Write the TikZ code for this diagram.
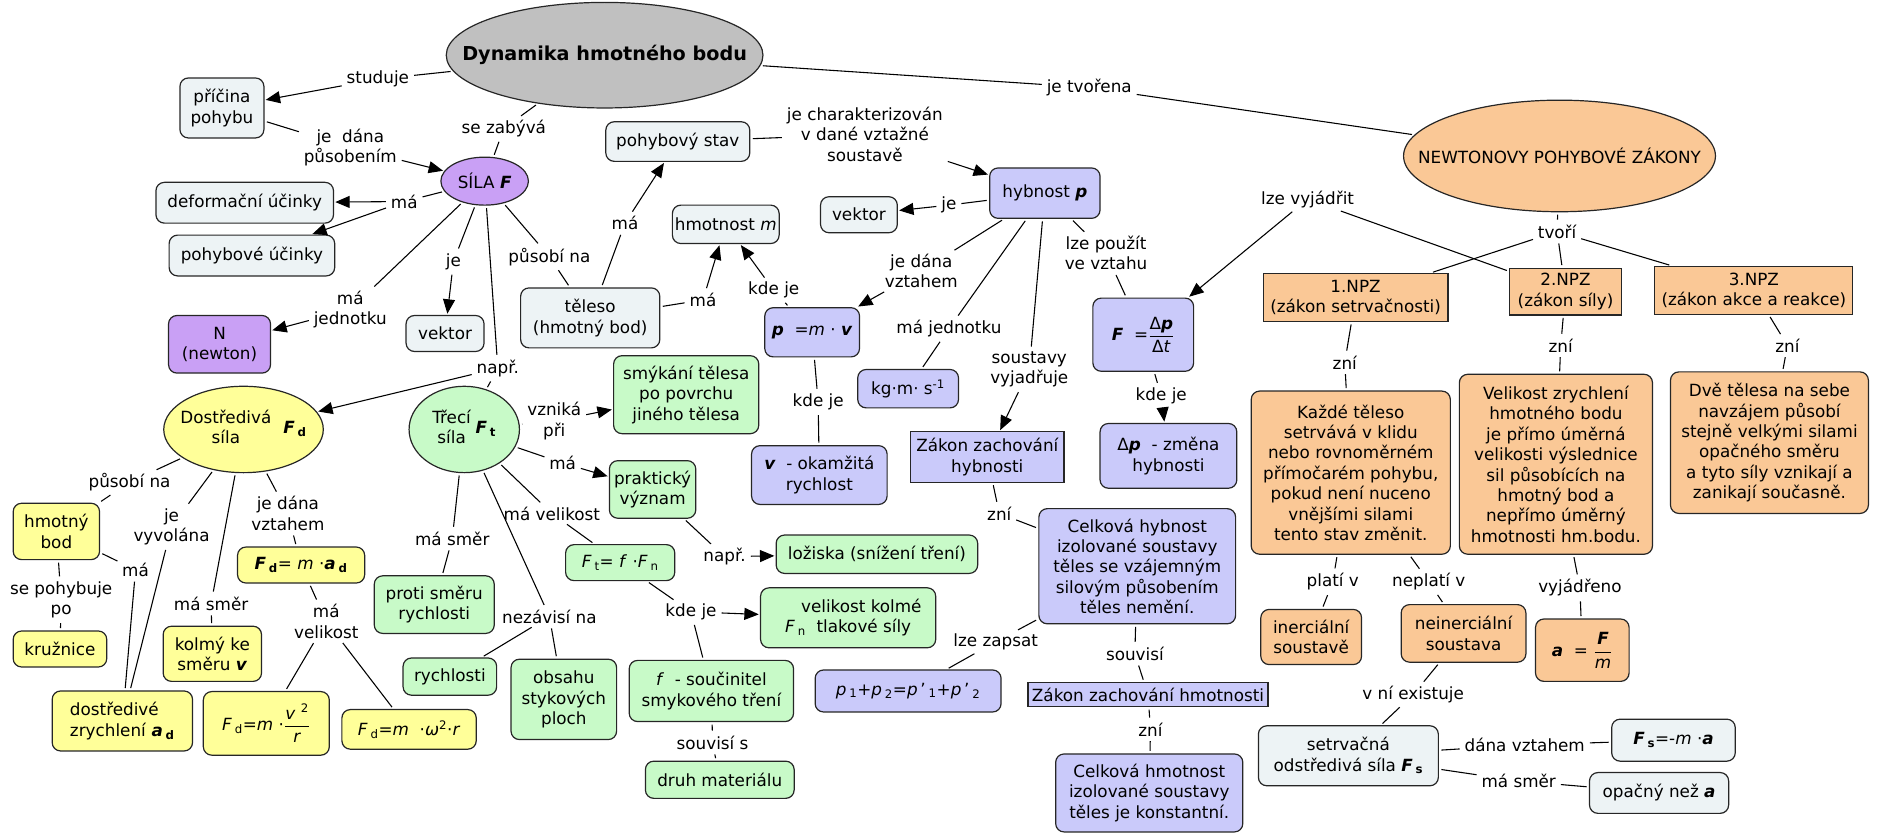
\documentclass[tikz,border=0pt]{standalone}
\usepackage{fontspec}
\setmainfont{DejaVu Sans}
\usepackage{amsmath}
\usetikzlibrary{arrows.meta,shapes.geometric}
\definecolor{greybg}{HTML}{C0C0C0}
\definecolor{palebg}{HTML}{EDF3F5}
\definecolor{violetbg}{HTML}{C9A0F5}
\definecolor{lavbg}{HTML}{CACAFA}
\definecolor{greenbg}{HTML}{C8FAC8}
\definecolor{yellowbg}{HTML}{FFFF99}
\definecolor{orangebg}{HTML}{FAC896}
\newcommand{\bi}[1]{\textbf{\textit{#1}}}
\newcommand{\frc}[2]{\ensuremath{\dfrac{\text{#1}}{\text{#2}}}}
\tikzset{
  sz/.style 2 args={minimum width=#1pt, minimum height=#2pt},
  concept/.style={
    draw=black!85,
    line width=1pt,
    align=center,
    inner sep=2pt,
    font=\fontsize{14}{17}\selectfont
  },
  box/.style={concept, rounded corners=7pt},
  law/.style={concept, rectangle},
  oval/.style={concept, ellipse, inner xsep=-20pt, inner ysep=0pt},
  palebox/.style={box, fill=palebg},
  violetbox/.style={box, fill=violetbg},
  lavbox/.style={box, fill=lavbg},
  greenbox/.style={box, fill=greenbg},
  yellowbox/.style={box, fill=yellowbg},
  orangebox/.style={box, fill=orangebg},
  phrase/.style={
    inner sep=2pt,
    align=center,
    font=\fontsize{14}{17}\selectfont
  },
  link/.style={line width=0.9pt, shorten <=2pt, shorten >=2pt},
  linkarr/.style={link, -{Triangle[length=12pt,width=10pt]}, shorten >=1pt}
}

\begin{document}
\begin{tikzpicture}[x=1pt,y=-1pt]
  \useasboundingbox (0,0) rectangle (1568,696);

  % --- concepts ---
  \node[oval, fill=greybg, sz={264}{88}, inner xsep=-35pt,
    font=\bfseries\fontsize{16}{19}\selectfont] (dynamika) at (504,46)
    {Dynamika hmotného bodu};
  \node[palebox, sz={70}{50}] (pricina) at (185,90) {příčina\\pohybu};
  \node[oval, fill=violetbg, sz={73}{40}] (sila) at (404,151) {SÍLA \bi{F}};
  \node[palebox, sz={148}{34}] (deform) at (204,169) {deformační účinky};
  \node[palebox, sz={138}{34}] (pohybove) at (210,213) {pohybové účinky};
  \node[violetbox, sz={85}{48}] (newton) at (183,287) {N\\(newton)};
  \node[palebox, sz={65}{30}] (vektorF) at (371,278) {vektor};
  \node[palebox, sz={116}{50}] (teleso) at (492,265) {těleso\\(hmotný bod)};
  \node[palebox, sz={120}{33}] (pohstav) at (565,118) {pohybový stav};
  \node[palebox, sz={89}{32}] (hmotnost) at (605,187) {hmotnost \textit{m}};
  \node[palebox, sz={64}{30}] (vektorP) at (716,179) {vektor};

  \node[lavbox, sz={92}{42}] (hybnost) at (871,161) {hybnost \bi{p}};
  \node[lavbox, sz={79}{41}] (pmv) at (677,277) {\bi{p}~~=\textit{m}~·~\bi{v}};
  \node[lavbox, sz={84}{32}] (kgms) at (757,324) {kg·m·~s\textsuperscript{-1}};
  \node[lavbox, sz={84}{61}] (Fdp) at (953,279)
    {\bi{F}~~=\frc{Δ\bi{p}}{Δ\textit{t}}};
  \node[lavbox, sz={114}{54}] (dp) at (974,380) {Δ\bi{p}~~- změna\\hybnosti};
  \node[law, fill=lavbg, sz={128}{42}] (zzh) at (823,381) {Zákon zachování\\hybnosti};
  \node[lavbox, sz={164}{96}] (celkhyb) at (948,472)
    {Celková hybnost\\izolované soustavy\\těles se vzájemným\\silovým působením\\těles nemění.};
  \node[lavbox, sz={113}{49}] (vokam) at (683,396) {\bi{v}~~- okamžitá\\rychlost};
  \node[lavbox, sz={155}{35}] (p1p2) at (757,576)
    {\textit{p}\,\textsubscript{1}+\textit{p}\,\textsubscript{2}=\textit{p}\,'\,\textsubscript{1}+\textit{p}\,'\,\textsubscript{2}};
  \node[law, fill=lavbg, sz={200}{20}, inner sep=1pt] (zzhm) at (957,579) {Zákon zachování hmotnosti};
  \node[lavbox, sz={156}{65}] (celkhm) at (958,661)
    {Celková hmotnost\\izolované soustavy\\těles je konstantní.};

  \node[oval, fill=greenbg, sz={92}{72}] (trecila) at (387,358)
    {\begin{tabular}{@{}c@{}}Třecí\\síla\end{tabular}\hspace{4pt}\bi{F}\,\textsubscript{\textbf{t}}};
  \node[greenbox, sz={121}{65}] (smykani) at (572,329) {smýkání tělesa\\po povrchu\\jiného tělesa};
  \node[greenbox, sz={72}{48}] (prakticky) at (544,408) {praktický\\význam};
  \node[greenbox, sz={168}{32}] (loziska) at (731,462) {ložiska (snížení tření)};
  \node[greenbox, sz={91}{30}] (Ftffn) at (517,469)
    {\textit{F}\,\textsubscript{t}=~\textit{f}~·\textit{F}\,\textsubscript{n}};
  \node[greenbox, sz={146}{50}] (Fn) at (707,515)
    {\hspace{22pt}velikost kolmé\\\textit{F}\,\textsubscript{n}~~tlakové síly};
  \node[greenbox, sz={137}{51}] (fsouc) at (593,576) {\textit{f}~~- součinitel\\smykového tření};
  \node[greenbox, sz={124}{31}] (druh) at (600,650) {druh materiálu};
  \node[greenbox, sz={100}{48}] (protismeru) at (362,504) {proti směru\\rychlosti};
  \node[greenbox, sz={78}{31}] (rychlosti) at (375,564) {rychlosti};
  \node[greenbox, sz={88}{67}] (obsahu) at (470,583) {obsahu\\stykových\\ploch};

  \node[oval, fill=yellowbg, sz={133}{72}] (dostrediva) at (203,358)
    {\begin{tabular}{@{}c@{}}Dostředivá\\síla\end{tabular}\hspace{10pt}\bi{F}\,\textsubscript{\textbf{d}}};
  \node[yellowbox, sz={72}{47}] (hmbod) at (47,443) {hmotný\\bod};
  \node[yellowbox, sz={78}{30}] (kruznice) at (50,541) {kružnice};
  \node[yellowbox, sz={117}{50}, align=left] (dostzrych) at (102,601)
    {dostředivé\\zrychlení \bi{a}\,\textsubscript{\textbf{d}}};
  \node[yellowbox, sz={82}{46}] (kolmy) at (177,545) {kolmý ke\\směru \bi{v}};
  \node[yellowbox, sz={106}{30}] (Fdmad) at (251,471)
    {\bi{F}\,\textsubscript{\textbf{d}}=~\textit{m}~·\bi{a}\,\textsubscript{\textbf{d}}};
  \node[yellowbox, sz={105}{53}] (Fdvr) at (222,603)
    {\textit{F}\,\textsubscript{d}=\textit{m}~·\frc{\textit{v}~\textsuperscript{2}}{\textit{r}}};
  \node[yellowbox, sz={112}{33}] (Fdwr) at (341,608)
    {\textit{F}\,\textsubscript{d}=\textit{m}~~·\textit{ω}\textsuperscript{2}·\textit{r}};

  \node[oval, fill=orangebg, sz={260}{93}, inner xsep=-35pt] (zakony) at (1300,130)
    {NEWTONOVY POHYBOVÉ ZÁKONY};
  \node[law, fill=orangebg, sz={154}{40}] (npz1) at (1130,248) {1.NPZ\\(zákon setrvačnosti)};
  \node[law, fill=orangebg, sz={93}{39}] (npz2) at (1305,243) {2.NPZ\\(zákon síly)};
  \node[law, fill=orangebg, sz={165}{40}] (npz3) at (1462,242) {3.NPZ\\(zákon akce a reakce)};
  \node[orangebox, sz={166}{136}] (setrvacnost) at (1126,394)
    {Každé těleso\\setrvává v klidu\\nebo rovnoměrném\\přímočarém pohybu,\\pokud není nuceno\\vnějšími silami\\tento stav změnit.};
  \node[orangebox, sz={161}{150}] (sily) at (1297,387)
    {Velikost zrychlení\\hmotného bodu\\je přímo úměrná\\velikosti výslednice\\sil působících na\\hmotný bod a\\nepřímo úměrný\\hmotnosti hm.bodu.};
  \node[orangebox, sz={165}{118}] (reakce) at (1475,369)
    {Dvě tělesa na sebe\\navzájem působí\\stejně velkými silami\\opačného směru\\a tyto síly vznikají a\\zanikají současně.};
  \node[orangebox, sz={84}{46}] (inerc) at (1093,531) {inerciální\\soustavě};
  \node[orangebox, sz={104}{48}] (neinerc) at (1220,528) {neinerciální\\soustava};
  \node[orangebox, sz={78}{52}] (aFm) at (1319,542) {\bi{a}~~=~\frc{\bi{F}}{\textit{m}}};
  \node[palebox, sz={150}{50}] (odstrediva) at (1124,630)
    {setrvačná\\odstředivá síla \bi{F}\,\textsubscript{\textbf{s}}};
  \node[palebox, sz={103}{35}] (Fsma) at (1395,617)
    {\bi{F}\,\textsubscript{\textbf{s}}=-\textit{m}~·\bi{a}};
  \node[palebox, sz={116}{34}] (opacny) at (1383,661) {opačný než \bi{a}};

  % --- linking phrases ---
  \node[phrase] (studuje) at (315,66) {studuje};
  \node[phrase] (jedana) at (292,123) {je~~dána\\působením};
  \node[phrase] (sezabyva) at (420,107) {se zabývá};
  \node[phrase] (maS) at (337,168) {má};
  \node[phrase] (jeS) at (378,218) {je};
  \node[phrase] (majed) at (292,258) {má\\jednotku};
  \node[phrase] (pusobi) at (458,214) {působí na};
  \node[phrase] (napr) at (415,307) {např.};
  \node[phrase] (maT1) at (521,186) {má};
  \node[phrase] (maT2) at (586,250) {má};
  \node[phrase] (charakt) at (721,112) {je charakterizován\\v dané vztažné\\soustavě};
  \node[phrase] (kdejeM) at (645,242) {kde je};
  \node[phrase] (jeP) at (791,171) {je};
  \node[phrase] (jedanaP) at (768,226) {je dána\\vztahem};
  \node[phrase] (majedP) at (791,274) {má jednotku};
  \node[phrase] (soustavy) at (858,308) {soustavy\\vyjadřuje};
  \node[phrase] (lzepouzit) at (922,211) {lze použít\\ve vztahu};
  \node[phrase] (kdejeV) at (682,335) {kde je};
  \node[phrase] (kdejeDp) at (968,330) {kde je};
  \node[phrase] (jetvorena) at (908,73) {je tvořena};
  \node[phrase] (lzevyjadrit) at (1090,166) {lze vyjádřit};
  \node[phrase] (tvori) at (1298,193) {tvoří};
  \node[phrase] (zni1) at (1121,302) {zní};
  \node[phrase] (zni2) at (1301,288) {zní};
  \node[phrase] (zni3) at (1490,288) {zní};
  \node[phrase] (plati) at (1111,485) {platí v};
  \node[phrase] (neplati) at (1191,485) {neplatí v};
  \node[phrase] (vyjadreno) at (1317,490) {vyjádřeno};
  \node[phrase] (existuje) at (1178,579) {v ní existuje};
  \node[phrase] (danavzt) at (1271,621) {dána vztahem};
  \node[phrase] (masmerS) at (1266,651) {má směr};
  \node[phrase] (zniH) at (833,428) {zní};
  \node[phrase] (lzezapsat) at (830,535) {lze zapsat};
  \node[phrase] (souvisi) at (946,545) {souvisí};
  \node[phrase] (zniM) at (959,608) {zní};
  \node[phrase] (vznika) at (462,351) {vzniká\\při};
  \node[phrase] (maF) at (469,386) {má};
  \node[phrase] (mavel) at (460,428) {má velikost};
  \node[phrase] (masmerT) at (377,449) {má směr};
  \node[phrase] (nezavisi) at (458,514) {nezávisí na};
  \node[phrase] (naprL) at (604,464) {např.};
  \node[phrase] (kdejeF) at (576,510) {kde je};
  \node[phrase] (souvisis) at (594,619) {souvisí s};
  \node[phrase] (pusobiD) at (108,402) {působí na};
  \node[phrase] (vyvolana) at (143,439) {je\\vyvolána};
  \node[phrase] (jedanaD) at (240,428) {je dána\\vztahem};
  \node[phrase] (masmerD) at (176,503) {má směr};
  \node[phrase] (maH) at (113,475) {má};
  \node[phrase] (pohybuje) at (51,500) {se pohybuje\\po};
  \node[phrase] (mavelD) at (272,518) {má\\velikost};

  % --- connectors ---
  \draw[link] (dynamika) -- (studuje);
  \draw[linkarr] (studuje) -- (pricina);
  \draw[link] (pricina) -- (jedana);
  \draw[linkarr] (jedana) -- (sila);
  \draw[link] (dynamika) -- (sezabyva);
  \draw[link] (sezabyva) -- (sila);
  \draw[link] (sila) -- (maS);
  \draw[linkarr] (maS) -- (deform);
  \draw[linkarr] (maS) -- (pohybove);
  \draw[link] (sila) -- (jeS);
  \draw[linkarr] (jeS) -- (vektorF);
  \draw[link] (sila) -- (majed);
  \draw[linkarr] (majed) -- (newton);
  \draw[link] (sila) -- (pusobi);
  \draw[link] (pusobi) -- (teleso);
  \draw[link] (sila) -- (napr);
  \draw[linkarr] (napr) -- (dostrediva);
  \draw[link] (napr) -- (trecila);

  \draw[link] (teleso) -- (maT1);
  \draw[linkarr] (maT1) -- (pohstav);
  \draw[link] (teleso) -- (maT2);
  \draw[linkarr] (maT2) -- (hmotnost);
  \draw[link] (pohstav) -- (charakt);
  \draw[linkarr] (charakt) -- (hybnost);
  \draw[link] (hybnost) -- (jeP);
  \draw[linkarr] (jeP) -- (vektorP);
  \draw[link] (hybnost) -- (jedanaP);
  \draw[linkarr] (jedanaP) -- (pmv);
  \draw[link] (pmv) -- (kdejeM);
  \draw[linkarr] (kdejeM) -- (hmotnost);
  \draw[link] (hybnost) -- (majedP);
  \draw[link] (majedP) -- (kgms);
  \draw[link] (hybnost) -- (soustavy);
  \draw[linkarr] (soustavy) -- (zzh);
  \draw[link] (hybnost) -- (lzepouzit);
  \draw[link] (lzepouzit) -- (Fdp);
  \draw[link] (pmv) -- (kdejeV);
  \draw[link] (kdejeV) -- (vokam);
  \draw[link] (Fdp) -- (kdejeDp);
  \draw[linkarr] (kdejeDp) -- (dp);
  \draw[link] (zzh) -- (zniH);
  \draw[link] (zniH) -- (celkhyb);
  \draw[link] (celkhyb) -- (lzezapsat);
  \draw[link] (lzezapsat) -- (p1p2);
  \draw[link] (celkhyb) -- (souvisi);
  \draw[link] (souvisi) -- (zzhm);
  \draw[link] (zzhm) -- (zniM);
  \draw[link] (zniM) -- (celkhm);

  \draw[link] (dynamika) -- (jetvorena);
  \draw[link] (jetvorena) -- (zakony);
  \draw[link] (npz2) -- (lzevyjadrit);
  \draw[linkarr] (lzevyjadrit) -- (Fdp);
  \draw[link] (zakony) -- (tvori);
  \draw[link] (tvori) -- (npz1);
  \draw[link] (tvori) -- (npz2);
  \draw[link] (tvori) -- (npz3);
  \draw[link] (npz1) -- (zni1);
  \draw[link] (zni1) -- (setrvacnost);
  \draw[link] (npz2) -- (zni2);
  \draw[link] (zni2) -- (sily);
  \draw[link] (npz3) -- (zni3);
  \draw[link] (zni3) -- (reakce);
  \draw[link] (setrvacnost) -- (plati);
  \draw[link] (plati) -- (inerc);
  \draw[link] (setrvacnost) -- (neplati);
  \draw[link] (neplati) -- (neinerc);
  \draw[link] (sily) -- (vyjadreno);
  \draw[link] (vyjadreno) -- (aFm);
  \draw[link] (neinerc) -- (existuje);
  \draw[link] (existuje) -- (odstrediva);
  \draw[link] (odstrediva) -- (danavzt);
  \draw[link] (danavzt) -- (Fsma);
  \draw[link] (odstrediva) -- (masmerS);
  \draw[link] (masmerS) -- (opacny);

  \draw[link] (trecila) -- (vznika);
  \draw[linkarr] (vznika) -- (smykani);
  \draw[link] (trecila) -- (maF);
  \draw[linkarr] (maF) -- (prakticky);
  \draw[link] (trecila) -- (mavel);
  \draw[link] (mavel) -- (Ftffn);
  \draw[link] (trecila) -- (masmerT);
  \draw[link] (masmerT) -- (protismeru);
  \draw[link] (trecila) -- (nezavisi);
  \draw[link] (nezavisi) -- (rychlosti);
  \draw[link] (nezavisi) -- (obsahu);
  \draw[link] (prakticky) -- (naprL);
  \draw[linkarr] (naprL) -- (loziska);
  \draw[link] (Ftffn) -- (kdejeF);
  \draw[linkarr] (kdejeF) -- (Fn);
  \draw[link] (kdejeF) -- (fsouc);
  \draw[link] (fsouc) -- (souvisis);
  \draw[link] (souvisis) -- (druh);

  \draw[link] (dostrediva) -- (pusobiD);
  \draw[link] (pusobiD) -- (hmbod);
  \draw[link] (hmbod) -- (pohybuje);
  \draw[link] (pohybuje) -- (kruznice);
  \draw[link] (hmbod) -- (maH);
  \draw[link] (maH) -- (dostzrych);
  \draw[link] (dostrediva) -- (vyvolana);
  \draw[link] (vyvolana) -- (dostzrych);
  \draw[link] (dostrediva) -- (masmerD);
  \draw[link] (masmerD) -- (kolmy);
  \draw[link] (dostrediva) -- (jedanaD);
  \draw[link] (jedanaD) -- (Fdmad);
  \draw[link] (Fdmad) -- (mavelD);
  \draw[link] (mavelD) -- (Fdvr);
  \draw[link] (mavelD) -- (Fdwr);
\end{tikzpicture}
\end{document}
